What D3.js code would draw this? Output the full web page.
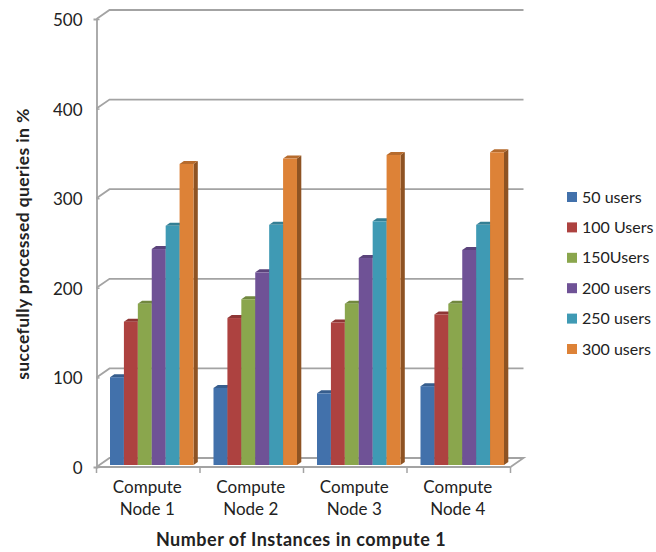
<!DOCTYPE html>
<html>
<head>
<meta charset="utf-8">
<script src="https://cdn.jsdelivr.net/npm/d3@7"></script>
<style>
html,body{margin:0;padding:0;background:#fff}
svg{display:block}
text{font-family:Lato,"Open Sans",sans-serif;fill:#222}
</style>
</head>
<body>
<svg id="chart" width="656" height="552"></svg>
<script>
const categories = ["Compute Node 1", "Compute Node 2", "Compute Node 3", "Compute Node 4"];
const seriesNames = ["50 users", "100 Users", "150Users", "200 users", "250 users", "300 users"];
const users50 = [98, 86, 80, 88];
const users100 = [160, 164, 159, 168];
const users150 = [180, 185, 180, 180];
const users200 = [241, 215, 231, 240];
const users250 = [267, 268, 272, 268];
const users300 = [336, 342, 346, 349];
const seriesValues = [users50, users100, users150, users200, users250, users300];
const yTicks = [0, 100, 200, 300, 400, 500];
const faceColors = ["#4271ab", "#ad4240", "#8aa64d", "#6f5296", "#3f9ab4", "#dd8237"];

const svg = d3.select("#chart");
const depthX = 13, depthY = 9;
const barDepthX = 4.3, barDepthY = 3, barLift = 2;

const x0 = d3.scaleBand().domain(categories).range([96.5, 510.5]);
const x1 = d3.scaleBand().domain(seriesNames).range([13.5, 97]);
const y = d3.scaleLinear().domain([0, 500]).range([467, 19]);

// Back wall grid and floor
const wall = svg.append("g").attr("fill", "none").attr("stroke", "#a3a3a3").attr("stroke-width", 1.8);
yTicks.forEach(t => {
  const path = d3.path();
  path.moveTo(x0.range()[0], y(t));
  path.lineTo(x0.range()[0] + depthX, y(t) - depthY);
  path.lineTo(x0.range()[1] + depthX, y(t) - depthY);
  if (t === 0) {
    path.lineTo(x0.range()[1], y(t));
  }
  wall.append("path").attr("d", path.toString());
});

// Front axes
const yAxis = d3.axisLeft(y).tickValues(yTicks).tickSize(3).tickPadding(11).tickFormat(d3.format("d"));
const yG = svg.append("g").attr("transform", `translate(${x0.range()[0]},0)`).call(yAxis);
yG.select(".domain").attr("stroke", "#a3a3a3").attr("stroke-width", 1.8);
yG.selectAll(".tick line").attr("x2", 3).attr("stroke", "#a3a3a3").attr("stroke-width", 1.5);
yG.selectAll("text").attr("font-size", 17).attr("fill", "#222").attr("dy", "0.38em");

const xAxis = d3.axisBottom(x0).tickSize(0).tickFormat("");
const xG = svg.append("g").attr("transform", `translate(0,${y(0)})`).call(xAxis);
xG.select(".domain").attr("d", `M${x0.range()[0]},0H${x0.range()[1]}`).attr("stroke", "#a3a3a3").attr("stroke-width", 1.8);
xG.selectAll(".tick line").remove();
const boundaries = categories.map(c => x0(c)).concat(x0.range()[1]);
xG.selectAll(".boundary").data(boundaries).join("line")
  .attr("class", "boundary")
  .attr("x1", d => d).attr("x2", d => d).attr("y1", 0).attr("y2", 6)
  .attr("stroke", "#a3a3a3").attr("stroke-width", 1.5);

// Bars: front face, top cap and right side, drawn left to right
const shade = (c, k) => d3.color(c).darker(k).formatHex();
categories.forEach((cat, ci) => {
  const g = svg.append("g").attr("transform", `translate(${x0(cat)},0)`);
  seriesNames.forEach((name, si) => {
    const v = seriesValues[si][ci];
    const left = x1(name), w = x1.bandwidth();
    const top = y(v) - barLift, bottom = y(0) - barLift;
    g.append("path")
      .attr("d", `M${left + w},${bottom}L${left + w + barDepthX},${bottom - barDepthY}L${left + w + barDepthX},${top - barDepthY}L${left + w},${top}Z`)
      .attr("fill", shade(faceColors[si], 1.25));
    g.append("path")
      .attr("d", `M${left},${top}L${left + barDepthX},${top - barDepthY}L${left + w + barDepthX},${top - barDepthY}L${left + w},${top}Z`)
      .attr("fill", shade(faceColors[si], 0.55));
    g.append("rect")
      .attr("x", left).attr("y", top).attr("width", w).attr("height", bottom - top)
      .attr("fill", faceColors[si]);
  });
});

// Category labels on two lines
categories.forEach(cat => {
  const words = cat.split(" ");
  const cx = x0(cat) + x0.bandwidth() / 2 - 1;
  const t = svg.append("text").attr("text-anchor", "middle").attr("font-size", 17);
  t.append("tspan").attr("x", cx).attr("y", 493).text(words[0]);
  t.append("tspan").attr("x", cx).attr("y", 515).text(words.slice(1).join(" "));
});

// Axis titles
svg.append("text").attr("x", 301).attr("y", 546).attr("text-anchor", "middle")
  .attr("font-size", 18).attr("font-weight", 700).attr("letter-spacing", 0.5).attr("fill", "#111")
  .text("Number of Instances in compute 1");
svg.append("text").attr("transform", "translate(29,244) rotate(-90)").attr("text-anchor", "middle")
  .attr("font-size", 17.5).attr("font-weight", 700).attr("letter-spacing", 0.4).attr("fill", "#111")
  .text("succefully processed queries in %");

// Legend
const legendY = d3.scalePoint().domain(seriesNames).range([197, 349]);
const legend = svg.append("g").selectAll("g").data(seriesNames).join("g")
  .attr("transform", d => `translate(567,${legendY(d)})`);
legend.append("rect").attr("x", 0).attr("y", -5).attr("width", 10).attr("height", 10)
  .attr("fill", (d, i) => faceColors[i]);
legend.append("text").attr("x", 15).attr("y", 0).attr("dy", "0.35em").attr("font-size", 16).text(d => d);
</script>
</body>
</html>
